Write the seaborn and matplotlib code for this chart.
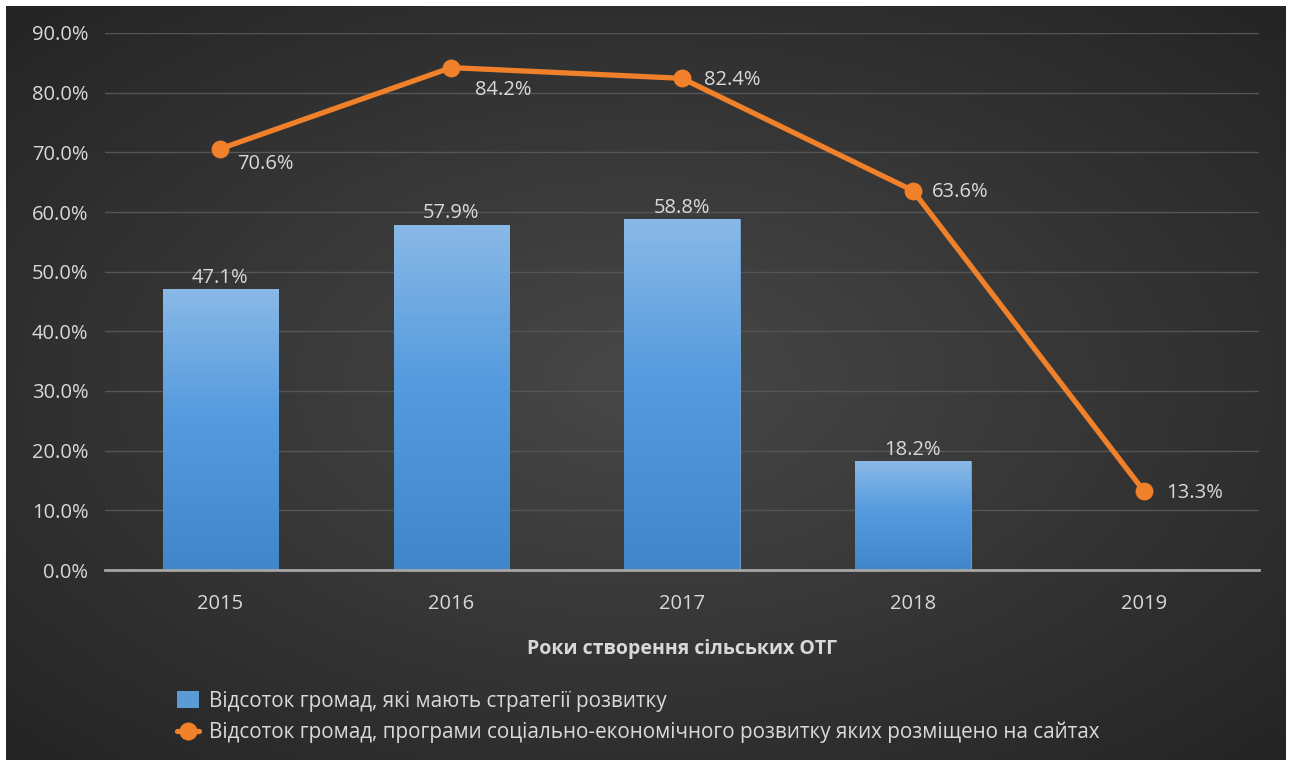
import numpy as np
import pandas as pd
import matplotlib
matplotlib.use("Agg")
import matplotlib.pyplot as plt
import seaborn as sns
from matplotlib.lines import Line2D
from matplotlib.patches import Patch

years = ["2015", "2016", "2017", "2018", "2019"]
bar_years = ["2015", "2016", "2017", "2018"]
bar_values = [47.1, 57.9, 58.8, 18.2]
line_values = [70.6, 84.2, 82.4, 63.6, 13.3]
yticks = [0, 10, 20, 30, 40, 50, 60, 70, 80, 90]
bar_label = "Відсоток громад, які мають стратегії розвитку"
line_label = "Відсоток громад, програми соціально-економічного розвитку яких розміщено на сайтах"
xlabel = "Роки створення сільських ОТГ"

sns.set_theme(style="dark")
plt.rcParams["font.family"] = ["Open Sans", "DejaVu Sans"]

TXT = "#d9d9d9"
ORANGE = "#f0802a"
FS = 14.5

W, H = 1290, 760
fig = plt.figure(figsize=(W / 100, H / 100), dpi=100, facecolor="white")

# background with radial gradient
bg = fig.add_axes([6 / W, 0, (1286 - 6) / W, (760 - 6) / H])
bg.set_axis_off()
yy, xx = np.mgrid[-1:1:300j, -1:1:500j]
r = np.sqrt((xx * 0.9) ** 2 + (yy * 0.9) ** 2)
r = np.clip(r / 1.27, 0, 1)
c_in = np.array([0x48, 0x48, 0x48]) / 255
c_out = np.array([0x24, 0x24, 0x24]) / 255
img = c_in[None, None, :] * (1 - r[..., None]) + c_out[None, None, :] * r[..., None]
bg.imshow(img, aspect="auto", extent=[0, 1, 0, 1], interpolation="bicubic")
bg.set_xlim(0, 1)
bg.set_ylim(0, 1)

ax = fig.add_axes([105 / W, 1 - 570 / H, (1259 - 105) / W, (570 - 33) / H])
ax.set_facecolor("none")

df_bar = pd.DataFrame({"year": bar_years, "value": bar_values})
df_line = pd.DataFrame({"year": years, "value": line_values})

sns.barplot(data=df_bar, x="year", y="value", order=years, ax=ax,
            color="#5b9bd5", width=0.5, saturation=1, zorder=2)

# gradient fill on bars
grad = np.linspace(0, 1, 256)[:, None]
top_c = np.array([0x8a, 0xb9, 0xe7]) / 255
mid_c = np.array([0x55, 0x9b, 0xde]) / 255
bot_c = np.array([0x40, 0x86, 0xc8]) / 255
g = np.where(grad < 0.45,
             top_c * (1 - grad / 0.45) + mid_c * (grad / 0.45),
             mid_c * (1 - (grad - 0.45) / 0.55) + bot_c * ((grad - 0.45) / 0.55))
g = g[:, None, :]
for p in list(ax.patches):
    x0, y0 = p.get_x(), p.get_y()
    w, h = p.get_width(), p.get_height()
    if not np.isfinite(h) or h == 0:
        continue
    im = ax.imshow(g, extent=[x0, x0 + w, y0, y0 + h], aspect="auto",
                   zorder=2.5, origin="upper", interpolation="bilinear")
    im.set_clip_path(p)
    p.set_edgecolor("#6fa8dc")
    p.set_linewidth(0.6)

sns.pointplot(data=df_line, x="year", y="value", order=years, ax=ax,
              color=ORANGE, markers="o", linestyles="-", zorder=4,
              markersize=10, linewidth=3.8)

ax.set_xlim(-0.5, 4.5)
ax.set_ylim(0, 90)
ax.set_yticks(yticks)
ax.set_yticklabels([f"{v:.1f}%" for v in yticks])
ax.grid(axis="y", color="#555555", linewidth=1)
ax.grid(axis="x", visible=False)
ax.set_axisbelow(True)
for s in ["top", "right", "left"]:
    ax.spines[s].set_visible(False)
ax.spines["bottom"].set_color("#a6a6a6")
ax.spines["bottom"].set_linewidth(2)
ax.spines["bottom"].set_zorder(5)
ax.tick_params(axis="both", colors=TXT, labelsize=FS, length=0)
ax.tick_params(axis="x", pad=17)
ax.tick_params(axis="y", pad=12)
for t in ax.get_xticklabels() + ax.get_yticklabels():
    t.set_color(TXT)
ax.set_xlabel(xlabel, color=TXT, fontsize=14, fontweight="bold", labelpad=18)
ax.set_ylabel("")

# data labels for bars
for i, v in enumerate(bar_values):
    ax.annotate(f"{v:.1f}%", (i, v), xytext=(0, 1), textcoords="offset points",
                ha="center", va="bottom", color=TXT, fontsize=FS, zorder=6)

# data labels for line
offsets = [(12, -11), (17, -16), (16, -1), (14, -1), (16, -2)]
for i, v in enumerate(line_values):
    dx, dy = offsets[i]
    ax.annotate(f"{v:.1f}%", (i, v), xytext=(dx, dy), textcoords="offset points",
                ha="left", va="center", color=TXT, fontsize=FS, zorder=6)

handles = [Patch(facecolor="#5b9bd5", edgecolor="none"),
           Line2D([0], [0], color=ORANGE, lw=3.8, marker="o", markersize=12)]
leg = fig.legend(handles, [bar_label, line_label], loc="upper left",
                 bbox_to_anchor=(158 / W, 1 - 672 / H), frameon=False,
                 fontsize=14.9, labelcolor=TXT, handlelength=1.1,
                 handleheight=0.9, handletextpad=0.45, labelspacing=0.5)

fig.savefig("out.png", dpi=100, facecolor="white")
